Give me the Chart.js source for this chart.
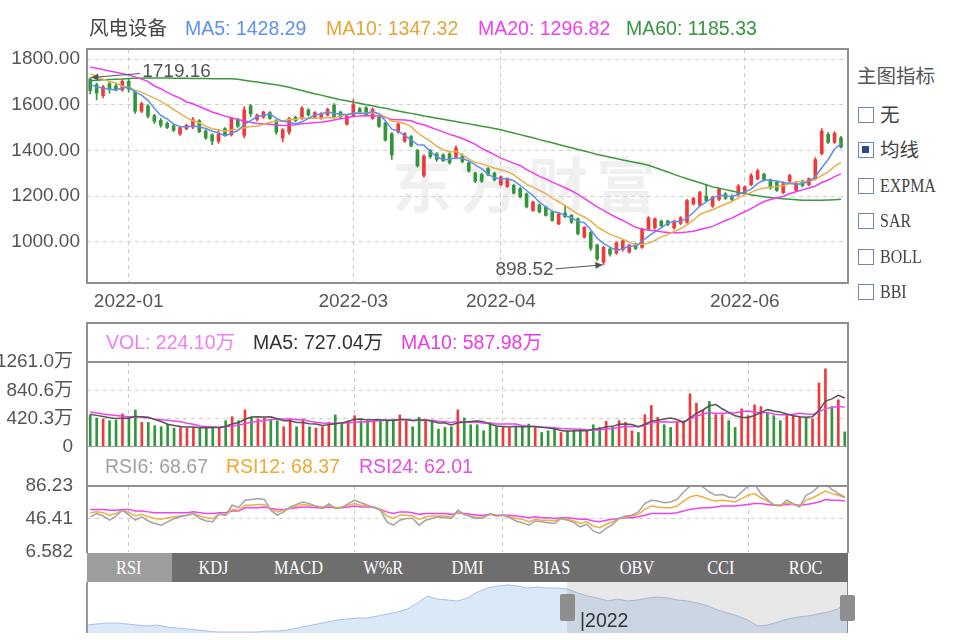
<!DOCTYPE html>
<html>
<head>
<meta charset="utf-8">
<script src="https://cdn.jsdelivr.net/npm/chart.js@4.4.1/dist/chart.umd.min.js"></script>
<style>
body{margin:0;width:960px;height:640px;overflow:hidden;position:relative;background:#fff;
  font-family:"Liberation Sans","Noto Sans CJK SC",sans-serif;}
canvas{position:absolute;z-index:1;}
.t{position:absolute;font-size:19.5px;line-height:22px;white-space:nowrap;z-index:3;}
.hl{position:absolute;background:#8f8f8f;z-index:2;}
.serif{font-family:"Liberation Serif",serif;font-size:19px;transform:scaleX(0.84);transform-origin:left center;}
.cb{position:absolute;left:858px;width:16px;height:16px;box-sizing:border-box;border:1.5px solid #6f86b3;background:#fff;z-index:3;}
.cb.on::after{content:"";position:absolute;left:3px;top:3px;width:7px;height:7px;background:#2a4a8c;}
#tabs{position:absolute;left:87px;top:553px;width:761px;height:29px;background:#6e6e6e;display:flex;z-index:3;}
#tabs div{flex:1;color:#fff;text-align:center;line-height:29px;}
#tabs div span{display:inline-block;font-family:"Liberation Serif",serif;font-size:19px;transform:scaleX(0.86);}
#tabs div.on{background:#9d9d9d;}
#wm{position:absolute;left:392px;top:138px;font-size:60px;font-weight:bold;letter-spacing:8px;color:rgba(0,0,0,0.06);
  font-family:"Noto Sans CJK SC",sans-serif;z-index:0;}
</style>
</head>
<body>
<div id="wm">东方财富</div>

<canvas id="mainChart" width="848" height="285" style="left:0;top:35px"></canvas>
<canvas id="volChart" width="848" height="113" style="left:0;top:348px"></canvas>
<canvas id="rsiChart" width="848" height="94" style="left:0;top:472px"></canvas>
<canvas id="navChart" width="761" height="51" style="left:87px;top:582px"></canvas>

<!-- frames -->
<div style="position:absolute;left:86px;top:48px;width:763px;height:236px;box-sizing:border-box;border:2px solid #8f8f8f;z-index:2"></div>
<div class="hl" style="left:86px;top:322px;width:763px;height:2px"></div>
<div class="hl" style="left:86px;top:361px;width:763px;height:2px"></div>
<div class="hl" style="left:86px;top:446px;width:763px;height:1px;background:#9a9a9a"></div>
<div class="hl" style="left:86px;top:485px;width:763px;height:2px"></div>
<div class="hl" style="left:86px;top:322px;width:2px;height:231px"></div>
<div class="hl" style="left:847px;top:322px;width:2px;height:231px"></div>
<div class="hl" style="left:86px;top:582px;width:1.5px;height:51px;background:#9a9a9a"></div>
<div class="hl" style="left:847px;top:582px;width:1px;height:51px;background:#8a8a8a"></div>

<!-- navigator overlay -->
<div style="position:absolute;left:567px;top:582px;width:280px;height:51px;background:rgba(150,150,150,0.22);z-index:2"></div>
<div style="position:absolute;left:560px;top:594px;width:15px;height:27px;background:#8e8e8e;border-radius:2px;z-index:3"></div>
<div style="position:absolute;left:840px;top:595px;width:15px;height:26px;background:#8e8e8e;border-radius:2px;z-index:3"></div>
<div class="t" style="left:580px;top:609px;color:#333">|2022</div>

<!-- headers -->
<div class="t" style="left:89px;top:17px;color:#444">风电设备</div>
<div class="t" style="left:185px;top:17px;color:#5b8ff0">MA5: 1428.29</div>
<div class="t" style="left:326px;top:17px;color:#e3a53a">MA10: 1347.32</div>
<div class="t" style="left:478px;top:17px;color:#f040f0">MA20: 1296.82</div>
<div class="t" style="left:626px;top:17px;color:#35963f">MA60: 1185.33</div>

<div class="t" style="left:106px;top:331px;color:#f07ef0">VOL: 224.10万</div>
<div class="t" style="left:253px;top:331px;color:#333">MA5: 727.04万</div>
<div class="t" style="left:401px;top:331px;color:#e83ce8">MA10: 587.98万</div>

<div class="t" style="left:105px;top:455px;color:#a0a0a0">RSI6: 68.67</div>
<div class="t" style="left:226px;top:455px;color:#f0a830">RSI12: 68.37</div>
<div class="t" style="left:359px;top:455px;color:#e84ce8">RSI24: 62.01</div>

<!-- side panel -->
<div class="t" style="left:857px;top:65px;color:#555">主图指标</div>
<div class="cb" style="top:107px"></div><div class="t" style="left:880px;top:104px;color:#444">无</div>
<div class="cb on" style="top:142px"></div><div class="t" style="left:880px;top:139px;color:#444">均线</div>
<div class="cb" style="top:178px"></div><div class="t serif" style="left:880px;top:175px;color:#444">EXPMA</div>
<div class="cb" style="top:213px"></div><div class="t serif" style="left:880px;top:210px;color:#444">SAR</div>
<div class="cb" style="top:249px"></div><div class="t serif" style="left:880px;top:246px;color:#444">BOLL</div>
<div class="cb" style="top:284px"></div><div class="t serif" style="left:880px;top:281px;color:#444">BBI</div>

<div id="tabs"><div class="on"><span>RSI</span></div><div><span>KDJ</span></div><div><span>MACD</span></div><div><span>W%R</span></div><div><span>DMI</span></div><div><span>BIAS</span></div><div><span>OBV</span></div><div><span>CCI</span></div><div><span>ROC</span></div></div>

<script>
// trading days shown in the chart
const dates = [
'2021-12-24','2021-12-27','2021-12-28','2021-12-29','2021-12-30','2021-12-31',
'2022-01-04','2022-01-05','2022-01-06','2022-01-07','2022-01-10','2022-01-11','2022-01-12','2022-01-13','2022-01-14',
'2022-01-17','2022-01-18','2022-01-19','2022-01-20','2022-01-21','2022-01-24','2022-01-25','2022-01-26','2022-01-27','2022-01-28',
'2022-02-07','2022-02-08','2022-02-09','2022-02-10','2022-02-11','2022-02-14','2022-02-15','2022-02-16','2022-02-17','2022-02-18',
'2022-02-21','2022-02-22','2022-02-23','2022-02-24','2022-02-25','2022-02-28',
'2022-03-01','2022-03-02','2022-03-03','2022-03-04','2022-03-07','2022-03-08','2022-03-09','2022-03-10','2022-03-11',
'2022-03-14','2022-03-15','2022-03-16','2022-03-17','2022-03-18','2022-03-21','2022-03-22','2022-03-23','2022-03-24','2022-03-25',
'2022-03-28','2022-03-29','2022-03-30','2022-03-31',
'2022-04-01','2022-04-06','2022-04-07','2022-04-08','2022-04-11','2022-04-12','2022-04-13','2022-04-14','2022-04-15',
'2022-04-18','2022-04-19','2022-04-20','2022-04-21','2022-04-22','2022-04-25','2022-04-26','2022-04-27','2022-04-28','2022-04-29',
'2022-05-05','2022-05-06','2022-05-09','2022-05-10','2022-05-11','2022-05-12','2022-05-13','2022-05-16','2022-05-17','2022-05-18',
'2022-05-19','2022-05-20','2022-05-23','2022-05-24','2022-05-25','2022-05-26','2022-05-27','2022-05-30','2022-05-31',
'2022-06-01','2022-06-02','2022-06-06','2022-06-07','2022-06-08','2022-06-09','2022-06-10','2022-06-13','2022-06-14',
'2022-06-15','2022-06-16','2022-06-17','2022-06-20','2022-06-21','2022-06-22','2022-06-23'
];
const monthTicks = ['2022-01-04','2022-03-01','2022-04-01','2022-06-01'];

const opens = [
1712,1688,1640,1692,1683,1665,1702,1658,1572,1595,
1552,1532,1518,1508,1472,1495,1502,1530,1485,1468,
1440,1495,1468,1535,1465,1595,1535,1545,1565,1530,
1455,1480,1545,1540,1578,1545,1540,1555,1598,1568,
1515,1550,1582,1586,1540,1545,1520,1472,1480,1440,
1460,1400,1290,1400,1385,1380,1385,1370,1378,1345,
1300,1295,1320,1300,1250,1242,1247,1233,1210,1137,
1160,1152,1130,1078,1125,1115,1100,1020,1040,985,
910,968,950,965,955,990,975,1055,1060,1090,
1090,1060,1080,1085,1165,1160,1200,1155,1185,1210,
1200,1205,1215,1250,1275,1295,1270,1260,1215,1265,
1225,1265,1250,1275,1385,1470,1435,1455];
const highs = [
1719.16,1695,1685,1700,1690,1712,1712,1662,1612,1600,
1558,1540,1525,1515,1505,1515,1545,1535,1490,1472,
1492,1500,1545,1540,1592,1602,1560,1572,1570,1535,
1495,1545,1550,1592,1582,1570,1565,1585,1605,1572,
1558,1622,1588,1592,1586,1550,1525,1478,1522,1478,
1465,1405,1380,1405,1390,1385,1390,1420,1385,1350,
1305,1300,1325,1305,1288,1280,1252,1238,1214,1178,
1165,1156,1134,1125,1160,1120,1104,1066,1044,990,
980,975,1000,1008,990,995,1060,1110,1105,1095,
1095,1095,1110,1185,1195,1220,1248,1200,1235,1215,
1205,1250,1245,1298,1318,1300,1275,1265,1262,1295,
1262,1270,1280,1368,1495,1478,1482,1462];
const lows = [
1648,1622,1630,1650,1660,1658,1655,1562,1565,1542,
1518,1502,1495,1482,1465,1490,1495,1478,1448,1425,
1430,1462,1462,1500,1455,1548,1528,1540,1535,1470,
1437,1470,1525,1535,1550,1540,1535,1550,1540,1540,
1510,1545,1560,1550,1535,1500,1440,1360,1475,1435,
1415,1326,1283,1365,1352,1350,1340,1362,1345,1305,
1258,1260,1288,1266,1245,1238,1208,1192,1148,1132,
1126,1112,1090,1075,1105,1080,1030,1015,962,918,
898.52,936,944,958,950,965,970,1050,1055,1065,
1070,1055,1075,1080,1160,1155,1175,1150,1180,1185,
1180,1200,1210,1245,1270,1265,1230,1220,1210,1260,
1220,1240,1245,1270,1380,1430,1430,1410];
const closes = [
1662,1650,1678,1668,1665,1702,1668,1572,1605,1550,
1527,1510,1500,1488,1500,1510,1535,1482,1455,1440,
1472,1468,1540,1505,1578,1560,1555,1568,1540,1480,
1490,1540,1530,1585,1555,1565,1560,1580,1545,1545,
1550,1600,1565,1555,1580,1505,1445,1380,1515,1475,
1420,1332,1375,1372,1360,1355,1345,1410,1350,1310,
1265,1265,1292,1270,1284,1275,1212,1196,1152,1174,
1130,1115,1093,1122,1110,1085,1034,1063,970,925,
975,945,995,1004,985,970,1056,1105,1100,1070,
1075,1090,1105,1180,1190,1215,1180,1195,1230,1190,
1185,1245,1240,1290,1310,1270,1235,1225,1255,1290,
1255,1245,1275,1360,1485,1435,1475,1415];

const ma5 = [
1688,1678,1672,1668,1665,1673,1676,1655,1642,1619,
1584,1553,1538,1515,1505,1502,1507,1503,1496,1484,
1477,1463,1475,1485,1513,1530,1548,1553,1560,1541,
1527,1524,1516,1525,1540,1555,1559,1569,1561,1559,
1556,1564,1561,1563,1570,1561,1530,1493,1485,1464,
1447,1424,1423,1395,1372,1359,1361,1368,1364,1354,
1336,1320,1296,1280,1275,1277,1267,1247,1224,1202,
1173,1153,1133,1127,1114,1105,1089,1083,1052,1015,
993,976,962,969,981,980,1002,1024,1043,1060,
1081,1088,1088,1104,1128,1156,1174,1192,1202,1202,
1196,1209,1218,1230,1254,1271,1269,1266,1259,1255,
1252,1254,1264,1285,1324,1360,1406,1428.29];
const ma10 = [
1735,1725,1712,1702,1695,1681,1677,1664,1655,1642,
1629,1615,1597,1579,1562,1543,1530,1521,1506,1495,
1489,1485,1489,1491,1499,1504,1506,1514,1523,1527,
1528,1536,1535,1543,1540,1541,1541,1543,1543,1550,
1556,1562,1565,1562,1565,1559,1547,1527,1524,1517,
1504,1477,1458,1440,1418,1403,1393,1396,1379,1363,
1347,1341,1332,1322,1315,1307,1293,1272,1252,1239,
1225,1210,1190,1175,1158,1139,1121,1108,1090,1065,
1049,1032,1022,1011,998,987,989,993,1006,1021,
1031,1045,1056,1074,1094,1119,1131,1140,1153,1165,
1176,1192,1205,1216,1228,1234,1239,1242,1245,1255,
1262,1262,1265,1272,1290,1306,1330,1347.32];
const ma20 = [
1765,1760,1754,1748,1742,1736,1730,1722,1712,1702,
1682,1670,1654,1640,1629,1612,1604,1592,1580,1568,
1559,1550,1543,1535,1530,1523,1518,1517,1514,1511,
1509,1510,1512,1517,1519,1522,1523,1528,1533,1538,
1542,1549,1550,1552,1552,1550,1544,1535,1534,1533,
1530,1519,1512,1501,1491,1481,1470,1462,1452,1440,
1426,1409,1395,1381,1366,1355,1343,1334,1316,1301,
1286,1275,1261,1249,1236,1223,1207,1190,1171,1152,
1137,1121,1106,1093,1078,1063,1055,1050,1048,1043,
1040,1039,1039,1042,1046,1053,1060,1067,1080,1093,
1103,1118,1131,1145,1161,1176,1185,1191,1199,1210,
1219,1227,1235,1244,1259,1270,1285,1296.82];
const ma60 = [
1705,1707,1709,1710,1712,1713,1715,1716,1716,1717,
1717,1717,1717,1716,1716,1716,1715,1715,1715,1714,
1714,1714,1714,1711,1707,1703,1699,1695,1691,1687,
1682,1676,1669,1662,1655,1648,1642,1635,1628,1622,
1617,1611,1606,1600,1595,1589,1584,1578,1572,1567,
1562,1557,1551,1546,1541,1536,1531,1526,1521,1516,
1511,1506,1501,1496,1490,1483,1476,1469,1462,1455,
1447,1440,1433,1426,1418,1411,1404,1397,1390,1382,
1376,1370,1364,1358,1352,1347,1341,1335,1325,1315,
1305,1295,1285,1276,1267,1258,1249,1240,1234,1228,
1222,1216,1210,1206,1201,1197,1193,1190,1188,1186,
1184,1182,1181,1181,1182,1183,1184,1185.33];

// volume in 万
const volumes = [
475,430,415,390,400,490,440,550,365,365,
315,300,340,280,290,280,290,280,290,300,
280,390,450,390,550,440,415,430,415,390,
300,415,300,415,300,280,300,365,475,365,
390,465,390,390,390,390,400,390,475,390,
300,440,390,390,265,290,300,550,430,330,
330,240,365,300,290,280,300,315,340,290,
215,240,265,215,240,240,265,240,330,290,
380,290,390,365,240,215,480,615,440,330,
290,365,390,790,650,550,675,480,480,390,
290,565,465,625,600,515,465,390,480,465,
440,440,420,950,1160,600,700,224.1];
const volMa5 = [
487,469,452,434,422,425,427,454,449,442,
407,379,337,320,305,298,296,284,286,288,
288,308,342,362,412,444,449,445,450,418,
390,390,364,364,346,342,319,332,344,357,
379,412,417,400,405,405,392,392,409,409,
391,399,399,382,357,355,327,359,367,380,
388,376,339,313,305,295,307,297,305,305,
292,280,270,245,235,240,245,240,263,273,
301,306,336,343,333,300,338,383,398,416,
431,408,363,433,497,549,611,629,567,515,
463,441,438,467,509,554,534,519,490,463,
448,443,449,543,682,714,766,727.04];
const volMa10 = [
520,505,490,478,466,456,448,453,442,432,
416,403,396,385,374,353,338,311,303,297,
293,302,313,324,350,366,379,394,406,415,
417,420,405,407,382,366,355,348,354,352,
361,366,375,372,381,392,402,405,405,407,
398,396,396,396,383,373,363,379,375,369,
372,352,349,340,343,342,342,318,309,305,
294,294,284,275,270,266,263,255,254,254,
271,276,288,303,303,301,322,360,371,375,
366,373,373,416,457,490,510,496,500,506,
506,526,534,517,512,509,488,479,479,486,
501,489,484,517,573,581,605,587.98];

const rsi6 = [
49,53,50,45,50,57,51,45,49,44,
41,39,43,47,49,51,53,47,44,43,
53,51,63,60,69,70,71,70,57,51,
55,61,64,67,65,62,59,65,59,60,
65,69,66,63,60,57,43,39,45,47,
47,39,45,47,49,48,47,57,52,49,
47,48,53,50,51,48,44,42,39,44,
43,42,41,47,45,42,37,40,32,29,
35,40,47,50,51,55,65,69,68,66,
67,70,79,86,89,85,79,75,76,73,
72,79,86,89,77,70,63,62,69,65,
61,75,79,86,89,82,77,73];
const rsi12 = [
54,55,54,51,53,57,54,50,52,49,
47,46,48,49,50,51,53,50,48,47,
52,51,58,57,63,63,64,64,58,55,
57,60,62,64,63,62,61,63,60,61,
63,65,63,62,61,58,50,47,51,51,
50,46,49,50,50,50,49,55,52,50,
48,49,52,50,51,49,47,46,43,46,
45,45,44,47,46,44,41,43,38,36,
40,43,47,49,50,52,58,62,61,60,
60,62,68,73,75,73,70,68,69,68,
67,71,75,77,72,68,64,63,66,64,
62,69,72,76,80,77,75,72];
const rsi24 = [
58,58,58,57,57,58,58,56,56,55,
54,54,54,54,54,54,55,54,53,53,
54,54,56,56,60,60,60,61,59,58,
58,59,60,61,61,60,60,61,60,60,
61,62,61,61,61,58,55,53,55,55,
54,52,53,53,53,53,52,54,53,52,
51,51,52,51,51,51,50,49,48,49,
48,48,47,48,48,47,46,46,44,43,
45,46,47,48,48,49,51,53,53,53,
53,54,56,58,59,60,60,61,62,62,
62,63,64,65,65,64,63,63,64,64,
63,64,65,67,70,69,69,68];

// long history shown in the navigator strip
const navValues = [
80,90,100,100,90,80,70,80,60,50,
40,30,20,10,10,10,10,10,20,20,
30,50,70,90,110,130,140,150,150,170,
190,210,240,300,370,340,330,320,350,410,
450,470,480,470,450,460,450,450,440,400,
370,350,320,340,320,330,350,360,350,330,
320,300,270,230,200,170,130,70,80,110,
140,160,170,190,210,240,350];

const priceTicks = [1000, 1200, 1400, 1600, 1800];
const volTicks = [0, 420.3, 840.6, 1261.0];
const rsiTicks = [6.582, 46.41, 86.23];

const UP = '#ee3a3a', DOWN = '#33963a';
const C = { ma5:'#5b8ff0', ma10:'#e9b04c', ma20:'#f03cf0', ma60:'#3a9a3a' };

Chart.defaults.font.family = '"Liberation Sans","Noto Sans CJK SC",sans-serif';
Chart.defaults.font.size = 19;
Chart.defaults.color = '#555';
Chart.defaults.animation = false;
Chart.defaults.events = [];
Chart.defaults.plugins.legend.display = false;
Chart.defaults.plugins.tooltip.enabled = false;

const monthIdx = monthTicks.map(d => dates.indexOf(d));
const candleColor = c => closes[c.dataIndex] >= opens[c.dataIndex] ? UP : DOWN;

function xAxis(showLabels) {
  return {
    offset: true,
    afterFit: s => { s.height = showLabels ? 37 : 0; },
    grid: { offset: false, drawTicks: false,
      color: c => monthIdx.includes(c.index) ? '#c8c8c8' : 'rgba(0,0,0,0)' },
    border: { display: false, dash: [4, 4] },
    ticks: { display: showLabels, autoSkip: false, maxRotation: 0, padding: 7,
      callback: (v, i) => monthIdx.includes(i) ? dates[i].slice(0, 7) : '' }
  };
}
function yAxis(min, max, ticks, fmt, pad) {
  return {
    min, max,
    // fixed axis width; labels may spill into the canvas margin instead of shrinking the plot
    afterFit: s => { s.width = 87; s.paddingTop = 0; s.paddingBottom = 0; },
    afterBuildTicks: s => { s.ticks = ticks.map(v => ({ value: v })); },
    grid: { drawTicks: false,
      color: c => (c.tick && (c.tick.value === min || c.tick.value === max)) ? 'rgba(0,0,0,0)' : '#cfcfcf' },
    border: { display: false, dash: [4, 4] },
    ticks: { padding: pad, callback: fmt }
  };
}
function line(data, color, order) {
  return { type: 'line', data, borderColor: color, borderWidth: 1.5, pointRadius: 0, fill: false, order: order || 0 };
}

function arrow(ctx, x1, y1, x2, y2) {
  const a = Math.atan2(y2 - y1, x2 - x1);
  ctx.beginPath(); ctx.moveTo(x1, y1); ctx.lineTo(x2, y2); ctx.stroke();
  ctx.beginPath(); ctx.moveTo(x2, y2);
  ctx.lineTo(x2 - 8 * Math.cos(a - 0.45), y2 - 8 * Math.sin(a - 0.45));
  ctx.lineTo(x2 - 8 * Math.cos(a + 0.45), y2 - 8 * Math.sin(a + 0.45));
  ctx.closePath(); ctx.fill();
}
const hiLoMarks = {
  id: 'hiLoMarks',
  afterDatasetsDraw(chart) {
    const { ctx, scales } = chart;
    const hi = Math.max(...highs), lo = Math.min(...lows);
    const hiI = highs.indexOf(hi), loI = lows.indexOf(lo);
    ctx.save();
    ctx.font = '19px "Liberation Sans", sans-serif';
    ctx.fillStyle = '#555'; ctx.strokeStyle = '#555'; ctx.lineWidth = 1;
    ctx.textBaseline = 'middle';
    let x = scales.x.getPixelForValue(hiI) + 1, y = scales.y.getPixelForValue(hi);
    arrow(ctx, x + 49, y - 4, x, y);
    ctx.textAlign = 'left';
    ctx.fillText(hi.toFixed(2), x + 51, y - 6);
    x = scales.x.getPixelForValue(loI) - 1; y = scales.y.getPixelForValue(lo);
    arrow(ctx, x - 47, y + 4, x, y);
    ctx.textAlign = 'right';
    ctx.fillText(lo.toFixed(2), x - 49, y + 5);
    ctx.restore();
  }
};

new Chart(document.getElementById('mainChart'), {
  type: 'bar',
  data: {
    labels: dates,
    datasets: [
      line(ma5, C.ma5), line(ma10, C.ma10), line(ma20, C.ma20), line(ma60, C.ma60),
      { type: 'bar', data: opens.map((o, i) => [o, closes[i]]), backgroundColor: candleColor,
        barThickness: 3, grouped: false, borderSkipped: false, minBarLength: 1, order: 1 },
      { type: 'bar', data: lows.map((l, i) => [l, highs[i]]), backgroundColor: candleColor,
        barThickness: 1, grouped: false, borderSkipped: false, order: 2 }
    ]
  },
  options: {
    responsive: false,
    layout: { padding: { top: 14, left: 0, right: 0, bottom: 0 } },
    scales: {
      x: xAxis(true),
      y: yAxis(819, 1844, priceTicks, v => v.toFixed(2), 7)
    }
  },
  plugins: [hiLoMarks]
});

new Chart(document.getElementById('volChart'), {
  type: 'bar',
  data: {
    labels: dates,
    datasets: [
      line(volMa5, '#555'), line(volMa10, '#ee44ee'),
      { type: 'bar', data: volumes, backgroundColor: candleColor, barThickness: 2, order: 1 }
    ]
  },
  options: {
    responsive: false,
    layout: { padding: { top: 14, left: 0, right: 0, bottom: 14 } },
    scales: {
      x: xAxis(false),
      y: yAxis(0, 1261.0, volTicks, v => v === 0 ? '0' : v.toFixed(1) + '万', 14)
    }
  }
});

new Chart(document.getElementById('rsiChart'), {
  type: 'line',
  data: {
    labels: dates,
    datasets: [ line(rsi6, '#a3a3a3'), line(rsi12, '#f0b040'), line(rsi24, '#ee44ee') ]
  },
  options: {
    responsive: false,
    layout: { padding: { top: 14, left: 0, right: 0, bottom: 14 } },
    scales: {
      x: xAxis(false),
      y: yAxis(6.582, 86.23, rsiTicks, v => v.toPrecision(4), 14)
    }
  }
});

new Chart(document.getElementById('navChart'), {
  type: 'line',
  data: {
    labels: navValues.map((v, i) => i),
    datasets: [{ data: navValues, borderColor: '#a4c2ea', borderWidth: 1, pointRadius: 0,
      fill: 'origin', backgroundColor: '#dbe8f8' }]
  },
  options: {
    responsive: false,
    layout: { padding: 0 },
    scales: {
      x: { display: false, offset: false },
      y: { display: false, min: 0, max: 510 }
    }
  }
});
</script>
</body>
</html>
